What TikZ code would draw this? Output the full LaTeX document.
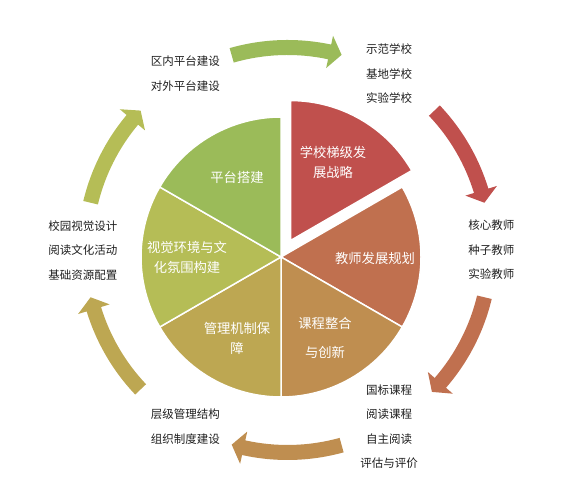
\documentclass[tikz,border=0pt]{standalone}
\usepackage{fontspec}
\setmainfont{Noto Sans CJK SC}
\definecolor{hong}{HTML}{C0504D}
\definecolor{cheng}{HTML}{C0704F}
\definecolor{zong}{HTML}{BF8E50}
\definecolor{gan}{HTML}{BDA752}
\definecolor{ganlv}{HTML}{B5BD56}
\definecolor{lv}{HTML}{9BBB59}
\tikzset{sector/.style={draw=white,line width=1.5pt},
  piece/.style={text=white,align=center,font=\fontsize{13.3}{20}\selectfont},
  item/.style={text=black!88,align=center,font=\fontsize{11.5}{24.6}\selectfont}}
% 弧形箭头: 颜色, 起始角, 终止角
\newcommand{\huxing}[3]{\fill[#1] (#2:210) arc (#2:#3+3.5:210) -- (#3+3.5:219) -- (#3:202.5) -- (#3+3.5:186) -- (#3+3.5:195) arc (#3+3.5:#2:195) -- cycle;}
\begin{document}
\begin{tikzpicture}[x=1pt,y=1pt]
            \useasboundingbox (0,0) rectangle (572,486);
            \coordinate (O) at (281,229);
            \coordinate (A) at (287.5,236);
            % 饼图
            \begin{scope}[shift={(O)}]
                \filldraw[hong,sector,shift={(60:19)}] (0,0) -- (90:140) arc (90:30:140) -- cycle;
                \filldraw[cheng,sector] (0,0) -- (30:140) arc (30:-30:140) -- cycle;
                \filldraw[zong,sector] (0,0) -- (-30:140) arc (-30:-90:140) -- cycle;
                \filldraw[gan,sector] (0,0) -- (-90:140) arc (-90:-150:140) -- cycle;
                \filldraw[ganlv,sector] (0,0) -- (210:140) arc (210:150:140) -- cycle;
                \filldraw[lv,sector] (0,0) -- (150:140) arc (150:90:140) -- cycle;
            \end{scope}
            \node[piece] (zhanlue) at (333,324) {学校梯级发\\展战略};
            \node[piece] (jiaoshi) at (375,228) {教师发展规划};
            \node[piece] (kecheng) at (325,148.5) {课程整合\\[9pt]与创新};
            \node[piece] (guanli) at (237,148) {管理机制保\\障};
            \node[piece] (shijue) at (187,228.5) {视觉环境与文\\化氛围构建};
            \node[piece] (pingtai) at (237,309) {平台搭建};
            % 外圈箭头
            \begin{scope}[shift={(A)}]
                \huxing{lv}{106}{74.5}
                \huxing{hong}{43.5}{13.5}
                \huxing{cheng}{-13.5}{-44.5}
                \huxing{zong}{-74.5}{-106}
                \huxing{gan}{223.5}{193.5}
                \huxing{ganlv}{166.5}{136.5}
            \end{scope}
            % 说明文字
            \node[item] (xuexiao) at (389,412.2) {示范学校\\基地学校\\实验学校};
            \node[item] (jiaoshi2) at (491.3,236.3) {核心教师\\种子教师\\实验教师};
            \node[item] (kecheng2) at (389,59.3) {国标课程\\阅读课程\\自主阅读\\评估与评价};
            \node[item] (guanli2) at (185.3,59.2) {层级管理结构\\组织制度建设};
            \node[item] (shijue2) at (82.8,235.7) {校园视觉设计\\阅读文化活动\\基础资源配置};
            \node[item] (pingtai2) at (185.3,412.5) {区内平台建设\\对外平台建设};
\end{tikzpicture}
\end{document}
